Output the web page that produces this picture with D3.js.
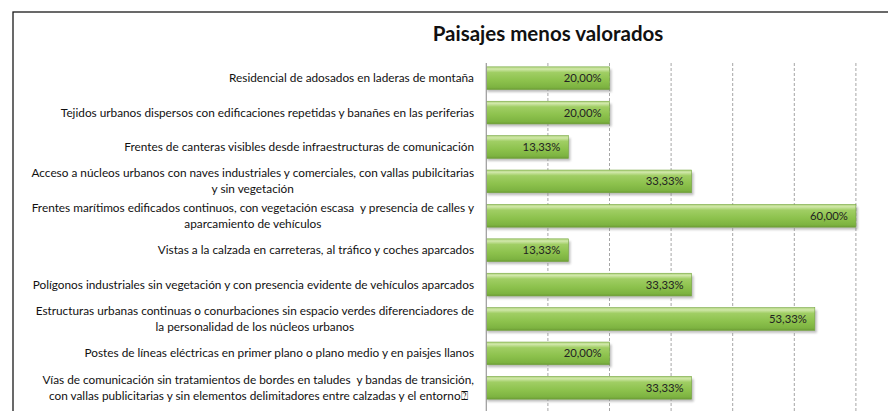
<!DOCTYPE html>
<html><head><meta charset="utf-8">
<script src="https://cdn.jsdelivr.net/npm/d3@7"></script>
<style>
html,body{margin:0;padding:0;background:#fff;}
svg{display:block;}
text{font-family:Lato,"Open Sans",sans-serif;white-space:pre;}
</style></head>
<body><svg id="c" width="888" height="411"></svg>
<script>
const categories = [
  ["Residencial de adosados en laderas de montaña"],
  ["Tejidos urbanos dispersos con edificaciones repetidas y banañes en las periferias"],
  ["Frentes de canteras visibles desde infraestructuras de comunicación"],
  ["Acceso a núcleos urbanos con naves industriales y comerciales, con vallas pubilcitarias", "y sin vegetación"],
  ["Frentes marítimos edificados continuos, con vegetación escasa  y presencia de calles y", "aparcamiento de vehículos"],
  ["Vistas a la calzada en carreteras, al tráfico y coches aparcados"],
  ["Polígonos industriales sin vegetación y con presencia evidente de vehículos aparcados"],
  ["Estructuras urbanas continuas o conurbaciones sin espacio verdes diferenciadores de", "la personalidad de los núcleos urbanos"],
  ["Postes de líneas eléctricas en primer plano o plano medio y en paisjes llanos"],
  ["Vías de comunicación sin tratamientos de bordes en taludes  y bandas de transición,", "con vallas publicitarias y sin elementos delimitadores entre calzadas y el entorno⍰"]
];
const values = [20.00, 20.00, 13.33, 33.33, 60.00, 13.33, 33.33, 53.33, 20.00, 33.33];
const gridTicks = [10, 20, 30, 40, 50, 60];
const title = "Paisajes menos valorados";

const svg = d3.select("#c");
const defs = svg.append("defs");
const g = defs.append("linearGradient").attr("id","bar").attr("x1",0).attr("y1",0).attr("x2",0).attr("y2",1);
[[0,"#b2d67f"],[0.1,"#d0e7a9"],[0.25,"#a0ce64"],[0.6,"#8dc24d"],[0.9,"#7db341"],[1,"#6c9c35"]]
  .forEach(([o,c])=>g.append("stop").attr("offset",o).attr("stop-color",c));
const f = defs.append("filter").attr("id","sh").attr("x","-10%").attr("y","-30%").attr("width","130%").attr("height","180%");
f.append("feGaussianBlur").attr("stdDeviation",1.2);

// frame
svg.append("rect").attr("x",13).attr("y",12).attr("width",900).attr("height",420)
  .attr("fill","none").attr("stroke","#1a1a1a").attr("stroke-width",1.3);

svg.append("text").attr("x",548).attr("y",41).attr("text-anchor","middle")
  .attr("font-size",20.5).attr("font-weight","bold").attr("fill","#111").text(title);

const x = d3.scaleLinear().domain([0,60]).range([486.3,855.9]);
const y = d3.scaleBand().domain(d3.range(values.length)).range([61,405]).paddingInner(0.34).paddingOuter(0.17);

// gridlines
svg.append("g").selectAll("line").data(gridTicks).join("line")
  .attr("x1",d=>x(d)).attr("x2",d=>x(d)).attr("y1",63).attr("y2",411)
  .attr("stroke","#a6a6a6").attr("stroke-width",1).attr("stroke-dasharray","3,2");

// shadows
svg.append("g").selectAll("rect").data(values).join("rect")
  .attr("x",x(0)+1).attr("y",(d,i)=>y(i)+2.5)
  .attr("width",d=>x(d)-x(0)+1).attr("height",y.bandwidth())
  .attr("fill","#8a8a8a").attr("opacity",0.55).attr("filter","url(#sh)");

// bars
svg.append("g").selectAll("rect").data(values).join("rect")
  .attr("x",x(0)).attr("y",(d,i)=>y(i))
  .attr("width",d=>x(d)-x(0)).attr("height",y.bandwidth())
  .attr("fill","url(#bar)").attr("stroke","#76a640").attr("stroke-width",0.6);

// axis line
svg.append("line").attr("x1",x(0)).attr("x2",x(0)).attr("y1",63).attr("y2",411)
  .attr("stroke","#9a9a9a").attr("stroke-width",1.2);

// value labels
const fmt = v => v.toFixed(2).replace(".",",") + "%";
svg.append("g").selectAll("text").data(values).join("text")
  .attr("x",d=>x(d)-8).attr("y",(d,i)=>y(i)+y.bandwidth()/2+4)
  .attr("text-anchor","end").attr("font-size",11.3).attr("fill","#222").text(fmt);

// category labels
const lab = svg.append("g");
categories.forEach((lines,i)=>{
  const cy = y(i)+y.bandwidth()/2;
  const n = lines.length, lh = 16;
  const t = lab.append("text").attr("font-size",11.8).attr("fill","#111").attr("text-anchor","middle");
  const spans = lines.map((s,k)=>t.append("tspan").attr("y",cy+4+(k-(n-1)/2)*lh).text(s));
  const maxW = d3.max(spans,sp=>sp.node().getComputedTextLength());
  spans.forEach(sp=>sp.attr("x",474-maxW/2));
});
</script></body></html>
